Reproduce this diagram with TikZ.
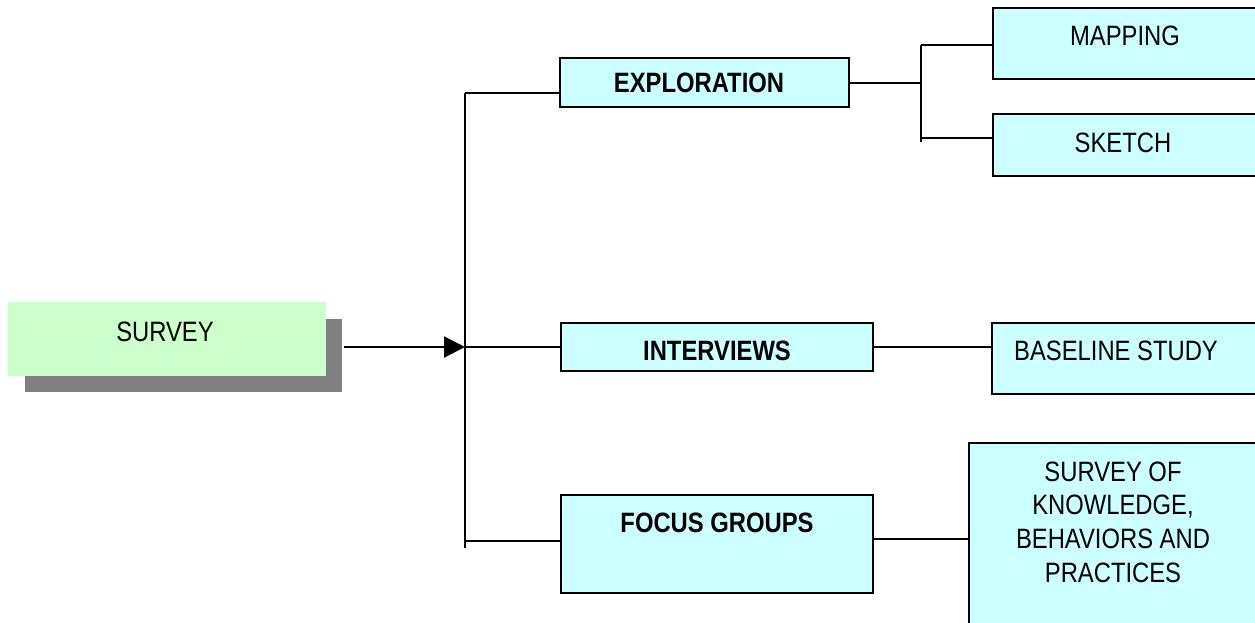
\documentclass[tikz,border=0pt]{standalone}
\usepackage{fontspec}
\setmainfont{Liberation Sans}[FakeStretch=0.85]
\usetikzlibrary{arrows.meta}

\definecolor{r204g255b255}{rgb}{0.800000,1.000000,1.000000}
\definecolor{r204g255b204}{rgb}{0.800000,1.000000,0.800000}
\definecolor{r128g128b128}{rgb}{0.501961,0.501961,0.501961}

\begin{document}
\begin{tikzpicture}[x=1pt,y=-1pt,
  box/.style={draw,line width=2pt,fill=r204g255b255,inner sep=0pt,outer sep=0pt,anchor=north west},
  link/.style={line width=2pt},
  caption/.style={inner sep=0pt,align=center,font=\fontsize{28}{33.7}\selectfont},
  bcaption/.style={caption,font=\fontsize{28}{33.7}\selectfont\bfseries}]
  \useasboundingbox (0,0) rectangle (1255,622);
  \clip (0,0) rectangle (1255,622);

  % Drawing box SURVEY with its shadow
  \fill[r128g128b128] (25,319) rectangle (342,392);
  \node[box,draw=none,fill=r204g255b204,minimum width=318pt,minimum height=74pt] (survey) at (8,302) {};
  \node[caption] (survey-t) at (165,332) {SURVEY};

  % Drawing boxes of the second column
  \node[box,minimum width=289pt,minimum height=49pt] (explore) at (560,58) {};
  \node[bcaption] (explore-t) at (699,83) {EXPLORATION};
  \node[box,minimum width=312pt,minimum height=48pt] (interview) at (561,323) {};
  \node[bcaption] (interview-t) at (717,351) {INTERVIEWS};
  \node[box,minimum width=312pt,minimum height=98pt] (focus) at (561,495) {};
  \node[bcaption] (focus-t) at (717,523) {FOCUS GROUPS};

  % Drawing boxes of the third column
  \node[box,minimum width=290pt,minimum height=71pt] (mapping) at (993,8) {};
  \node[caption] (mapping-t) at (1125,36) {MAPPING};
  \node[box,minimum width=290pt,minimum height=62pt] (sketch) at (993,114) {};
  \node[caption] (sketch-t) at (1123,143) {SKETCH};
  \node[box,minimum width=290pt,minimum height=71pt] (baseline) at (992,323) {};
  \node[caption] (baseline-t) at (1116,351) {BASELINE STUDY};
  \node[box,minimum width=320pt,minimum height=200pt] (kap) at (969,443) {};
  \node[caption] (kap-t) at (1113,522) {SURVEY OF\\KNOWLEDGE,\\BEHAVIORS AND\\PRACTICES};

  % Drawing trunk and arrow from SURVEY
  \coordinate (arrowstart) at (344,347);
  \coordinate (trunktop) at (465,93);
  \coordinate (hub) at (465,347);
  \coordinate (focusin) at (465,541);
  \coordinate (trunkbot) at (465,548);
  \draw[link] (trunktop) -- (trunkbot);
  \draw[link,-{Triangle[length=21pt,width=21pt]}] (arrowstart) -- (hub);
  \draw[link] (trunktop) -- (trunktop -| explore.west);
  \draw[link] (hub) -- (interview.west);
  \draw[link] (focusin) -- (focusin -| focus.west);

  % Drawing fork of EXPLORATION
  \coordinate (forktop) at (921,45);
  \coordinate (sketchin) at (921,138);
  \coordinate (forkbot) at (921,142);
  \draw[link] (forktop) -- (forkbot);
  \draw[link] (explore.east) -- (explore.east -| forktop);
  \draw[link] (forktop) -- (forktop -| mapping.west);
  \draw[link] (sketchin) -- (sketchin -| sketch.west);

  % Drawing links to BASELINE STUDY and SURVEY OF ...
  \coordinate (focusout) at (873,539);
  \draw[link] (interview.east) -- (interview.east -| baseline.west);
  \draw[link] (focusout) -- (focusout -| kap.west);
\end{tikzpicture}
\end{document}
